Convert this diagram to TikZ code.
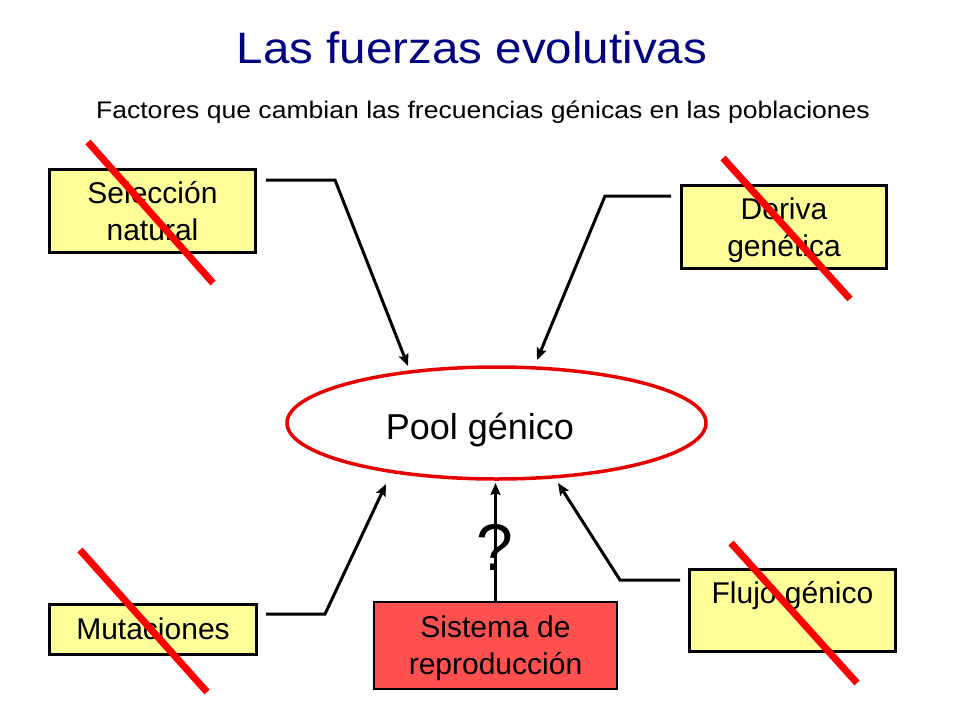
\documentclass[tikz,border=0pt]{standalone}
\usepackage{fontspec}
\setmainfont{Liberation Sans}
\usetikzlibrary{arrows.meta,shapes.geometric}
\definecolor{boxyellow}{HTML}{FFFF99}
\definecolor{boxred}{HTML}{FF5050}
\definecolor{titleblue}{HTML}{000080}
\definecolor{ellred}{HTML}{E60000}
\definecolor{crossred}{HTML}{FF0000}
\begin{document}
\begin{tikzpicture}[x=1pt,y=-1pt,
  factor/.style={draw=black, line width=3pt, fill=boxyellow, align=center,
    font=\fontsize{30}{37}\selectfont, inner sep=0pt, text depth=0pt},
  sysbox/.style={draw=black, line width=1.2pt, fill=boxred, align=center,
    font=\fontsize{30}{37}\selectfont, inner sep=0pt, text depth=0pt},
  conn/.style={line width=3pt, line join=miter,
    -{Stealth[length=12pt,width=10pt,inset=2pt]}},
  cross/.style={crossred, line width=7pt}]
\useasboundingbox (0,0) rectangle (960,720);

% title
\node[anchor=base, text=titleblue, font=\fontsize{44}{50}\selectfont, inner sep=0pt]
  (title) at (472,63) {\scalebox{1.08}[1]{Las fuerzas evolutivas}};
\node[anchor=base, font=\fontsize{24}{28}\selectfont, inner sep=0pt]
  (subtitle) at (483,118) {\scalebox{1.107}[1]{Factores que cambian las frecuencias génicas en las poblaciones}};

% central pool
\node[ellipse, draw=ellred, line width=3.5pt, fill=white, minimum width=419pt,
  minimum height=112pt, inner sep=0pt, text height=32pt, text depth=0pt,
  font=\fontsize{36}{40}\selectfont]
  (pool) at (496.5,423) {Pool génico\kern33pt};

% factor boxes
\node[factor, minimum width=206pt, minimum height=83pt] (sel) at (152.5,211) {Selección\\natural};
\node[factor, minimum width=205pt, minimum height=83pt] (der) at (784,227) {Deriva\\genética};
\node[factor, minimum width=207pt, minimum height=50pt] (mut) at (153,629) {Mutaciones};
\node[factor, minimum width=206pt, minimum height=82pt] (flu) at (792.5,610.5) {Flujo génico\\\mbox{}};
\node[sysbox, minimum width=243pt, minimum height=87pt] (sis) at (495.5,645.5) {Sistema de\\reproducción};

% connector points
\coordinate (selA) at (266,180);
\coordinate (selB) at (335,180);
\coordinate (selT) at (408,366);
\coordinate (derA) at (671,196);
\coordinate (derB) at (605,196);
\coordinate (derT) at (537,360);
\coordinate (mutA) at (266,614);
\coordinate (mutB) at (325,614);
\coordinate (mutT) at (386,484);
\coordinate (fluA) at (680,580);
\coordinate (fluB) at (620,580);
\coordinate (fluT) at (558,483);
\coordinate (sisT) at (495.5,483);

\draw[conn] (selA) -- (selB) -- (selT);
\draw[conn] (derA) -- (derB) -- (derT);
\draw[conn] (mutA) -- (mutB) -- (mutT);
\draw[conn] (fluA) -- (fluB) -- (fluT);
\draw[conn] (sis.north) -- (sisT);

% question mark
\node[anchor=base, font=\fontsize{66}{70}\selectfont, inner sep=0pt] (q) at (494.5,570) {?};

% red crosses
\coordinate (c1a) at (88,142);  \coordinate (c1b) at (213,283);
\coordinate (c2a) at (723,158); \coordinate (c2b) at (850,299);
\coordinate (c3a) at (80,550);  \coordinate (c3b) at (207,692);
\coordinate (c4a) at (731,543); \coordinate (c4b) at (857,683);
\draw[cross] (c1a) -- (c1b);
\draw[cross] (c2a) -- (c2b);
\draw[cross] (c3a) -- (c3b);
\draw[cross] (c4a) -- (c4b);
\end{tikzpicture}
\end{document}
